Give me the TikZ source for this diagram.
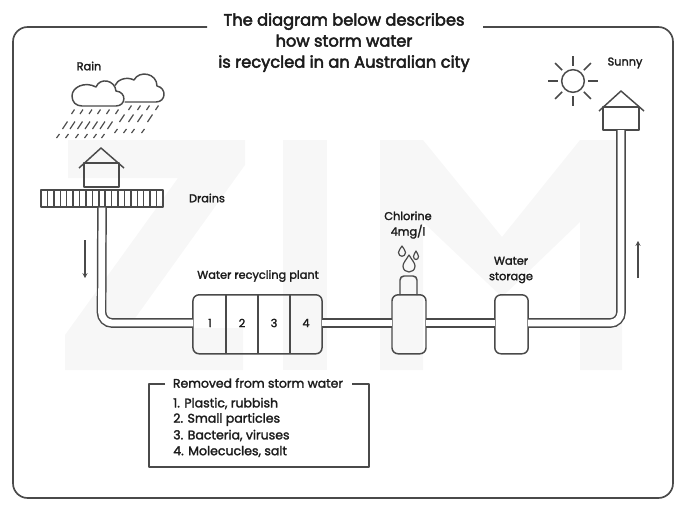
\documentclass[tikz,border=0pt]{standalone}
\usepackage{fontspec}
\setmainfont{Poppins}[FakeBold=2]
\newfontfamily\headfont{Poppins}[FakeBold=3]
\usetikzlibrary{arrows.meta,calc}
\definecolor{ink}{HTML}{4A4A4A}
\definecolor{letter}{HTML}{1C1C1C}
\definecolor{ghost}{HTML}{F7F7F7}
\tikzset{
  x=0.75pt, y=-0.75pt,
  outline/.style={draw=ink, line width=1.1pt, line join=round},
  thick outline/.style={draw=ink, line width=1.25pt, line join=round},
  unit/.style={outline, rounded corners=4.5pt, minimum height=44.2pt, inner sep=0pt},
  pipe/.style={draw=ink, line width=1.1pt, double=white, double distance=5.1pt},
  label/.style={text=letter, font=\fontsize{8.5}{11.6}\selectfont, align=center, inner sep=0pt},
  key head/.style={text=letter, font=\fontsize{9.3}{11.6}\selectfont, align=center, inner sep=0pt},
  headline/.style={text=letter, font=\headfont\fontsize{12.2}{15.8}\selectfont, align=center, inner sep=0pt},
  listline/.style={text=letter, font=\fontsize{9.4}{11}\selectfont, anchor=west, inner sep=0pt},
  flow/.style={draw=ink, line width=0.9pt, -{Stealth[length=3.6pt,width=3.8pt]}},
  drop/.style={draw=ink, line width=0.9pt, line join=round},
  ray/.style={draw=ink, line width=1.1pt},
  rain/.style={draw=ink, line width=0.85pt},
}
\begin{document}
\begin{tikzpicture}
\useasboundingbox (0,0) rectangle (694,507);

% Faint lettering behind the drawing
\fill[ghost] (68,140) -- (245,140) -- (245,165) -- (128,328) -- (243,328) -- (243,370) -- (65,370) -- (65,335) -- (178,178) -- (68,178) -- cycle;
\fill[ghost] (283,140) rectangle (327,370);
\fill[ghost] (380,140) -- (423,140) -- (502,237) -- (580,140) -- (622,140) -- (622,370) -- (580,370) -- (580,222) -- (502,297) -- (423,222) -- (423,370) -- (380,370) -- cycle;

% Outer frame, open at the top for the heading
\coordinate (frameL) at (207,27);
\coordinate (frameR) at (483,27);
\draw[thick outline, rounded corners=11pt] (frameL) -- (13,27) -- (13,498) -- (673,498) -- (673,27) -- (frameR);
\node[headline] (title) at (344,42.5) {The diagram below describes\\how storm water\\is recycled in an Australian city};

% Clouds
\draw[outline] (82,106) -- (116,106) .. controls (126,106) and (127,92) .. (116,91)
  .. controls (115,80) and (100,77) .. (96,87) .. controls (85,81) and (72,87) .. (72,96)
  .. controls (72,102) and (76,106) .. (82,106) -- cycle;
\draw[outline] (124.5,102) -- (156,102) .. controls (166,102) and (167,88) .. (157,86)
  .. controls (157,73) and (139,70) .. (134,80) .. controls (126,76) and (117,80) .. (115,85.5);

% Rain, three rows under each cloud
\foreach \px/\py in {73/114,81.5/114,90.5/114,99/114,108/114,117/114,130/110,139/110,148/110,157/110}
  \draw[rain] (\px-1.5,\py) -- (\px+1.5,\py-4.5);
\foreach \px/\py in {65/129,72.5/129,80/129,87.5/129,95/129,102.5/129,110/129,122/122,131/122,140/122,150/122}
  \draw[rain] (\px-2.5,\py) -- (\px+2.5,\py-7.5);
\foreach \px/\py in {58/138,67/138,77/138,86/138,95/138,103/138,116/133,125/133,133/133,143/133}
  \draw[rain] (\px-1.5,\py) -- (\px+1.5,\py-4);

% House over the drains
\node[outline, minimum width=26.2pt, minimum height=18pt, inner sep=0pt] (houseA) at (101.5,175) {};
\coordinate (roofA) at (101,148);
\draw[outline] (79,168) -- (roofA) -- (124,168);

% Drain grating
\node[outline, minimum width=91.5pt, minimum height=12.75pt, inner sep=0pt] (grate) at (102,198.5) {};
\foreach \n in {1,...,18}
  \draw[outline] (41+\n*6.42,190) -- (41+\n*6.42,207);

% Treatment units
\node[unit, minimum width=96.8pt] (plant) at (257.5,324.3) {};
\foreach \dx in {226,258,290}
  \draw[outline] (\dx,295) -- (\dx,353.6);
\node[label] (n1) at (210,323) {1};
\node[label] (n2) at (242,323) {2};
\node[label] (n3) at (274,323) {3};
\node[label] (n4) at (306,323) {4};
\node[unit, minimum width=25.5pt] (tank) at (409,324.3) {};
\node[unit, minimum width=25pt] (store) at (511.5,324.3) {};
\draw[outline, rounded corners=3pt] (400,295) -- (400,276) -- (417,276) -- (417,295);

% Chlorine drops
\draw[drop] (409,255) .. controls (412,260) and (415,263) .. (415,266) .. controls (415,274) and (403,274) .. (403,266) .. controls (403,263) and (406,260) .. (409,255) -- cycle;
\draw[drop] (402,246) .. controls (403.5,248.5) and (405.5,250.5) .. (405.5,252.5) .. controls (405.5,257.5) and (398.5,257.5) .. (398.5,252.5) .. controls (398.5,250.5) and (400.5,248.5) .. (402,246) -- cycle;
\draw[drop] (416,251) .. controls (417,253) and (418.5,255) .. (418.5,256.5) .. controls (418.5,260.5) and (413.5,260.5) .. (413.5,256.5) .. controls (413.5,255) and (415,253) .. (416,251) -- cycle;

% Sun
\node[outline, circle, minimum size=17pt, inner sep=0pt] (sun) at (573,81) {};
\foreach \a in {0,45,...,315}
  \draw[ray] ($(573,81)+(\a:11.5pt)$) -- ($(573,81)+(\a:19pt)$);

% House at the end of the line
\node[outline, minimum width=27pt, minimum height=17.3pt, inner sep=0pt] (houseB) at (621,118.5) {};
\coordinate (roofB) at (621,91);
\draw[outline] (599,111) -- (roofB) -- (644,111);

% Pipework
\coordinate (inA) at (193,323);
\coordinate (outA) at (322,323);
\coordinate (inB) at (392,323);
\coordinate (outB) at (426,323);
\coordinate (inC) at (495,323);
\coordinate (outC) at (528,323);
\coordinate (endB) at (621,130);
\draw[pipe, rounded corners=8pt] (grate.south) -- (101.5,323) -- (inA);
\draw[pipe] (outA) -- (inB);
\draw[pipe] (outB) -- (inC);
\draw[pipe, rounded corners=8pt] (outC) -- (621,323) -- (endB);

% Flow direction
\coordinate (fa) at (85,240);
\coordinate (fb) at (85,278);
\coordinate (fc) at (638,278);
\coordinate (fd) at (638,241);
\draw[flow] (fa) -- (fb);
\draw[flow] (fc) -- (fd);

% Labels
\node[label] (rainL) at (89,66) {Rain};
\node[label] (drains) at (207,198) {Drains};
\node[label] (plantL) at (258,276) {Water recycling plant};
\node[label] (chlor) at (408,225) {Chlorine\\4mg/l};
\node[label] (storeL) at (511,270) {Water\\storage};
\node[label] (sunny) at (625,63) {Sunny};

% Key to the plant stages
\coordinate (keyL) at (165,384);
\coordinate (keyR) at (352,384);
\draw[outline] (keyL) -- (149,384) -- (149,467) -- (369,467) -- (369,384) -- (keyR);
\node[key head] (keyT) at (258,383) {Removed from storm water};
\node[listline] (k1) at (173,403.5) {1. Plastic, rubbish};
\node[listline] (k2) at (173,419.5) {2. Small particles};
\node[listline] (k3) at (173,435.5) {3. Bacteria, viruses};
\node[listline] (k4) at (173,451.5) {4. Molecucles, salt};
\end{tikzpicture}
\end{document}
